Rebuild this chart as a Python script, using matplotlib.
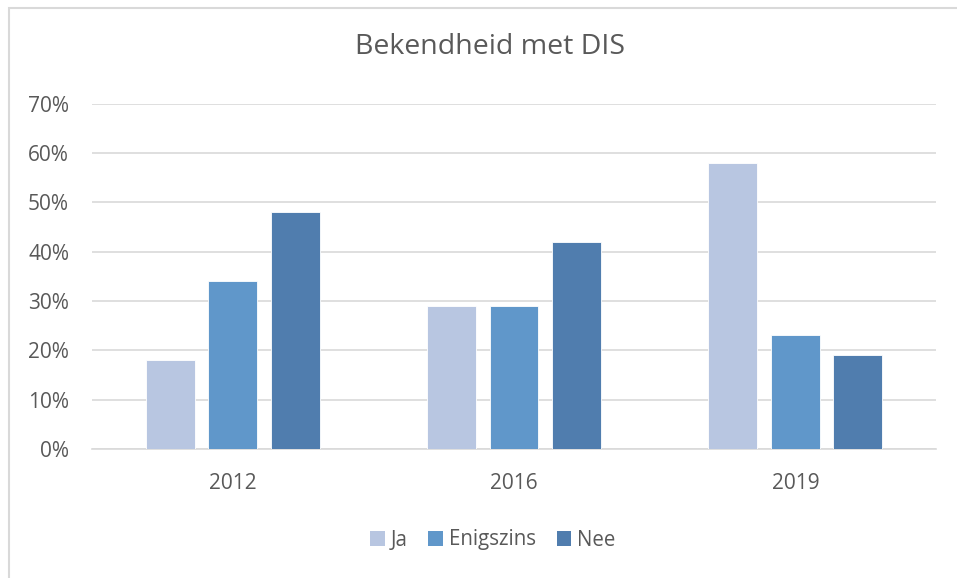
import matplotlib
matplotlib.use("Agg")
import matplotlib.pyplot as plt
from matplotlib.patches import Rectangle, Patch
import numpy as np

years = ["2012", "2016", "2019"]
series = ["Ja", "Enigszins", "Nee"]
ja = [18, 29, 58]
enigszins = [34, 29, 23]
nee = [48, 42, 19]
yticks = [0, 10, 20, 30, 40, 50, 60, 70]
colors = ["#B8C6E1", "#6097CA", "#507DAE"]

plt.rcParams['font.family'] = ['Open Sans', 'DejaVu Sans']
txt = "#595959"

W, H = 957, 578
fig = plt.figure(figsize=(W / 100, H / 100), dpi=100)
fig.patch.set_facecolor("white")

# chart border
fig.add_artist(Rectangle((9 / W, -0.05), 1.1, 1 - 8 / H + 0.05, transform=fig.transFigure,
                         fill=False, edgecolor="#D9D9D9", linewidth=1.5))

ax = fig.add_axes([92 / W, 1 - 449 / H, (936 - 92) / W, (449 - 103.5) / H])
x = np.arange(len(years))
w = 0.174
off = 0.222
for i, (vals, c, name) in enumerate(zip([ja, enigszins, nee], colors, series)):
    ax.bar(x + (i - 1) * off, vals, width=w, color=c, edgecolor="white", linewidth=0.6,
           label=name, zorder=3)

ax.set_xlim(-0.5, 2.5)
ax.set_ylim(0, 70)
ax.set_yticks(yticks)
ax.set_yticklabels([f"{v}%" for v in yticks], color=txt, fontsize=15)
ax.set_xticks(x)
ax.set_xticklabels(years, color=txt, fontsize=15)
ax.tick_params(axis="both", length=0)
ax.tick_params(axis="y", pad=16.5)
ax.tick_params(axis="x", pad=17)
ax.grid(axis="y", color="#D9D9D9", linewidth=1.2, zorder=0)
for s in ["top", "right", "left"]:
    ax.spines[s].set_visible(False)
ax.spines["bottom"].set_color("#D9D9D9")
ax.spines["bottom"].set_linewidth(1.2)

fig.text(490 / W, 1 - 47 / H, "Bekendheid met DIS", ha="center", va="center",
         fontsize=20.5, color=txt)

handles = [Patch(facecolor=c, edgecolor="none") for c in colors]
fig.legend(handles, series, loc="center", bbox_to_anchor=(493 / W, 1 - 540 / H),
           ncol=3, frameon=False, fontsize=14.8, labelcolor=txt,
           handlelength=0.7, handleheight=0.7, handletextpad=0.3, columnspacing=1.0)

fig.savefig("out.png", dpi=100)
